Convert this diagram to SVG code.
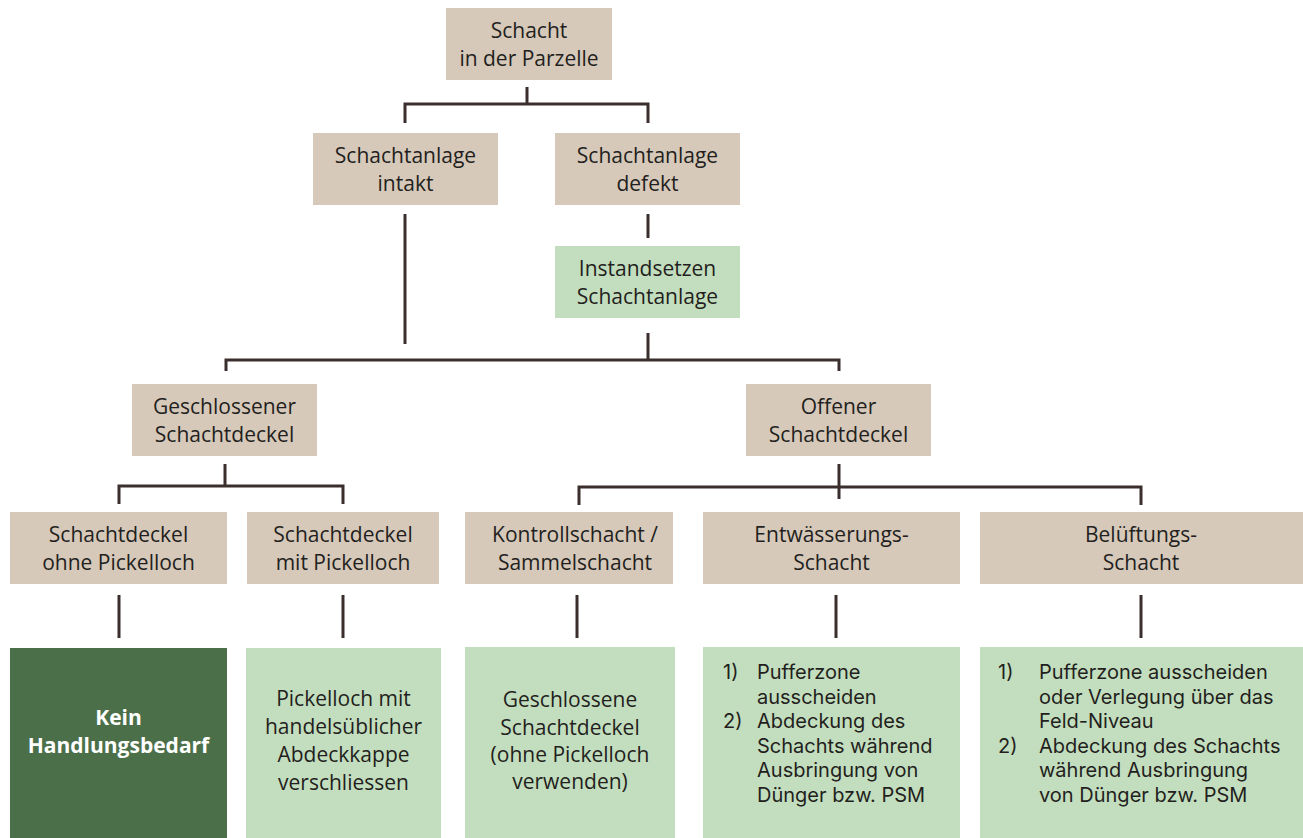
<svg xmlns="http://www.w3.org/2000/svg" width="1303" height="838" viewBox="0 0 1303 838">
<style>
.b{fill:#D6C9BA}
.g{fill:#C3DEBE}
.d{fill:#4B7049}
text{font-family:"Open Sans","Noto Sans","Liberation Sans",sans-serif;font-size:21px;fill:#231F20}
.c{text-anchor:middle}
.w{fill:#FFFFFF;font-weight:bold}
.l{font-family:Inter,"Open Sans","Liberation Sans",sans-serif;font-size:20px}
#conn path{fill:none;stroke:#3B2F2E;stroke-width:3}
</style>
<rect width="1303" height="838" fill="#FFFFFF"/>
<g id="conn">
<path d="M527 87V104M405 123V104H648V123"/>
<path d="M405 214V344"/>
<path d="M648 214V238"/>
<path d="M648 333V360"/>
<path d="M226 371V360H839V371"/>
<path d="M225 464V486M119 504V486H343V504"/>
<path d="M839 464V499M579 505V487H1141V505"/>
<path d="M119 595V638M343 595V638M577 595V638M836 595V638M1141 595V638"/>
</g>
<g id="n0"><rect class="b" x="446" y="8" width="166" height="72"/><text class="c"><tspan x="529" y="37.5">Schacht</tspan><tspan x="529" y="65.5">in der Parzelle</tspan></text></g>
<g id="n1"><rect class="b" x="313" y="133" width="185" height="72"/><text class="c"><tspan x="405.5" y="162.5">Schachtanlage</tspan><tspan x="405.5" y="190.5">intakt</tspan></text></g>
<g id="n2"><rect class="b" x="555" y="133" width="185" height="72"/><text class="c"><tspan x="647.5" y="162.5">Schachtanlage</tspan><tspan x="647.5" y="190.5">defekt</tspan></text></g>
<g id="n3"><rect class="g" x="555" y="246" width="185" height="72"/><text class="c"><tspan x="647.5" y="275.5">Instandsetzen</tspan><tspan x="647.5" y="303.5">Schachtanlage</tspan></text></g>
<g id="n4"><rect class="b" x="132" y="384" width="185" height="72"/><text class="c"><tspan x="224.5" y="413.5">Geschlossener</tspan><tspan x="224.5" y="441.5">Schachtdeckel</tspan></text></g>
<g id="n5"><rect class="b" x="746" y="384" width="185" height="72"/><text class="c"><tspan x="838.5" y="413.5">Offener</tspan><tspan x="838.5" y="441.5">Schachtdeckel</tspan></text></g>
<g id="n6"><rect class="b" x="10" y="512" width="217" height="72"/><text class="c"><tspan x="118.5" y="541.5">Schachtdeckel</tspan><tspan x="118.5" y="569.5">ohne Pickelloch</tspan></text></g>
<g id="n7"><rect class="b" x="247" y="512" width="192" height="72"/><text class="c"><tspan x="343" y="541.5">Schachtdeckel</tspan><tspan x="343" y="569.5">mit Pickelloch</tspan></text></g>
<g id="n8"><rect class="b" x="465" y="512" width="208" height="72"/><text class="c"><tspan x="575" y="541.5">Kontrollschacht /</tspan><tspan x="575" y="569.5">Sammelschacht</tspan></text></g>
<g id="n9"><rect class="b" x="703" y="512" width="257" height="72"/><text class="c"><tspan x="831.5" y="541.5">Entwässerungs-</tspan><tspan x="831.5" y="569.5">Schacht</tspan></text></g>
<g id="n10"><rect class="b" x="980" y="512" width="323" height="72"/><text class="c"><tspan x="1141" y="541.5">Belüftungs-</tspan><tspan x="1141" y="569.5">Schacht</tspan></text></g>
<g id="n11"><rect class="d" x="10" y="648" width="217" height="190"/><text class="c w"><tspan x="118.5" y="725">Kein</tspan><tspan x="118.5" y="753">Handlungsbedarf</tspan></text></g>
<g id="n12"><rect class="g" x="246" y="648" width="195" height="190"/><text class="c"><tspan x="343.5" y="706">Pickelloch mit</tspan><tspan x="343.5" y="734">handelsüblicher</tspan><tspan x="343.5" y="762">Abdeckkappe</tspan><tspan x="343.5" y="790">verschliessen</tspan></text></g>
<g id="n13"><rect class="g" x="465" y="647" width="210" height="191"/><text class="c"><tspan x="570" y="707">Geschlossene</tspan><tspan x="570" y="734.5">Schachtdeckel</tspan><tspan x="570" y="762">(ohne Pickelloch</tspan><tspan x="570" y="789">verwenden)</tspan></text></g>
<g id="n14"><rect class="g" x="703" y="647" width="257" height="191"/>
<text class="l"><tspan x="723" y="679">1)</tspan><tspan x="757" y="679">Pufferzone</tspan><tspan x="757" y="703.5">ausscheiden</tspan><tspan x="723" y="728">2)</tspan><tspan x="757" y="728">Abdeckung des</tspan><tspan x="757" y="752.5">Schachts während</tspan><tspan x="757" y="777">Ausbringung von</tspan><tspan x="757" y="801.5">Dünger bzw. PSM</tspan></text></g>
<g id="n15"><rect class="g" x="980" y="647" width="323" height="191"/>
<text class="l"><tspan x="998" y="679">1)</tspan><tspan x="1039" y="679">Pufferzone ausscheiden</tspan><tspan x="1039" y="703.5">oder Verlegung über das</tspan><tspan x="1039" y="728">Feld-Niveau</tspan><tspan x="998" y="752.5">2)</tspan><tspan x="1039" y="752.5">Abdeckung des Schachts</tspan><tspan x="1039" y="777">während Ausbringung</tspan><tspan x="1039" y="801.5">von Dünger bzw. PSM</tspan></text></g>
</svg>
